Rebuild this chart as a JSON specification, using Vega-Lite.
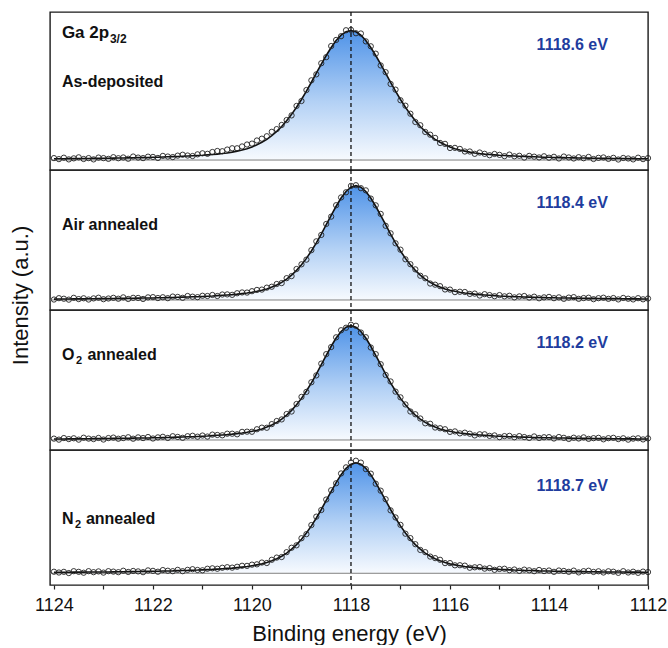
{
"$schema": "https://vega.github.io/schema/vega-lite/v6.json",
"padding": {"left": 8, "top": 10, "right": 0, "bottom": 0},
"background": "white",
"spacing": 0,
"bounds": "flush",
"config": {"view": {"stroke": "#1a1a1a", "strokeWidth": 1.4}, "font": "Liberation Sans"},
"datasets": {
"spec": [
{"s":"a","e":1124,"f":1,"o":1.5},{"s":"a","e":1123.9,"f":1,"o":0.7},{"s":"a","e":1123.8,"f":1,"o":1.8},{"s":"a","e":1123.7,"f":1.1,"o":0.5},{"s":"a","e":1123.6,"f":1.1,"o":1.3},{"s":"a","e":1123.5,"f":1.2,"o":2.1},{"s":"a","e":1123.4,"f":1.2,"o":0.8},{"s":"a","e":1123.3,"f":1.2,"o":1.5},{"s":"a","e":1123.2,"f":1.3,"o":0.5},{"s":"a","e":1123.1,"f":1.3,"o":1.9},
{"s":"a","e":1123,"f":1.4,"o":1.5},{"s":"a","e":1122.9,"f":1.4,"o":0.9},{"s":"a","e":1122.8,"f":1.5,"o":2.2},{"s":"a","e":1122.7,"f":1.6,"o":1.4},{"s":"a","e":1122.6,"f":1.6,"o":2},{"s":"a","e":1122.5,"f":1.7,"o":1},{"s":"a","e":1122.4,"f":1.8,"o":2.7},{"s":"a","e":1122.3,"f":1.9,"o":1.9},{"s":"a","e":1122.2,"f":1.9,"o":1.5},{"s":"a","e":1122.1,"f":2,"o":2.6},
{"s":"a","e":1122,"f":2.1,"o":2.4},{"s":"a","e":1121.9,"f":2.2,"o":1.6},{"s":"a","e":1121.8,"f":2.4,"o":3.2},{"s":"a","e":1121.7,"f":2.5,"o":2.7},{"s":"a","e":1121.6,"f":2.6,"o":2.3},{"s":"a","e":1121.5,"f":2.7,"o":3.4},{"s":"a","e":1121.4,"f":2.9,"o":4.1},{"s":"a","e":1121.3,"f":3.1,"o":3.5},{"s":"a","e":1121.2,"f":3.3,"o":3.1},{"s":"a","e":1121.1,"f":3.5,"o":4.4},
{"s":"a","e":1121,"f":3.7,"o":5.2},{"s":"a","e":1120.9,"f":4,"o":4.8},{"s":"a","e":1120.8,"f":4.3,"o":6.2},{"s":"a","e":1120.7,"f":4.6,"o":7},{"s":"a","e":1120.6,"f":5,"o":6.8},{"s":"a","e":1120.5,"f":5.5,"o":8.1},{"s":"a","e":1120.4,"f":6.1,"o":9.1},{"s":"a","e":1120.3,"f":6.9,"o":9.1},{"s":"a","e":1120.2,"f":7.7,"o":10.5},{"s":"a","e":1120.1,"f":8.8,"o":12},
{"s":"a","e":1120,"f":10.1,"o":12.7},{"s":"a","e":1119.9,"f":11.8,"o":15.1},{"s":"a","e":1119.8,"f":13.7,"o":16.5},{"s":"a","e":1119.7,"f":16,"o":18.4},{"s":"a","e":1119.6,"f":18.8,"o":21.8},{"s":"a","e":1119.5,"f":22.1,"o":23.9},{"s":"a","e":1119.4,"f":25.9,"o":27.1},{"s":"a","e":1119.3,"f":30.3,"o":30.9},{"s":"a","e":1119.2,"f":35.3,"o":34.5},{"s":"a","e":1119.1,"f":40.8,"o":41.8},
{"s":"a","e":1119,"f":46.8,"o":45.6},{"s":"a","e":1118.9,"f":53.3,"o":54.1},{"s":"a","e":1118.8,"f":60.1,"o":61.6},{"s":"a","e":1118.7,"f":67.1,"o":66.2},{"s":"a","e":1118.6,"f":74.1,"o":74.8},{"s":"a","e":1118.5,"f":80.8,"o":79.5},{"s":"a","e":1118.4,"f":87,"o":88.1},{"s":"a","e":1118.3,"f":92.4,"o":92.8},{"s":"a","e":1118.2,"f":96.5,"o":95.7},{"s":"a","e":1118.1,"f":99.1,"o":100.3},
{"s":"a","e":1118,"f":100,"o":100.6},{"s":"a","e":1117.9,"f":99.1,"o":98},{"s":"a","e":1117.8,"f":96.5,"o":97.8},{"s":"a","e":1117.7,"f":92.4,"o":91.7},{"s":"a","e":1117.6,"f":87,"o":87.9},{"s":"a","e":1117.5,"f":80.8,"o":82.2},{"s":"a","e":1117.4,"f":74.1,"o":73.1},{"s":"a","e":1117.3,"f":67.1,"o":67.9},{"s":"a","e":1117.2,"f":60.1,"o":58.8},{"s":"a","e":1117.1,"f":53.3,"o":54.4},
{"s":"a","e":1117,"f":46.8,"o":46.2},{"s":"a","e":1116.9,"f":40.8,"o":42},{"s":"a","e":1116.8,"f":35.3,"o":35.8},{"s":"a","e":1116.7,"f":30.3,"o":29.4},{"s":"a","e":1116.6,"f":25.9,"o":26.9},{"s":"a","e":1116.5,"f":22.1,"o":21.7},{"s":"a","e":1116.4,"f":18.8,"o":19.6},{"s":"a","e":1116.3,"f":16,"o":17.1},{"s":"a","e":1116.2,"f":13.7,"o":13.2},{"s":"a","e":1116.1,"f":11.8,"o":12.5},
{"s":"a","e":1116,"f":10.1,"o":9.3},{"s":"a","e":1115.9,"f":8.8,"o":9.4},{"s":"a","e":1115.8,"f":7.7,"o":8.6},{"s":"a","e":1115.7,"f":6.9,"o":6.6},{"s":"a","e":1115.6,"f":6.1,"o":6.6},{"s":"a","e":1115.5,"f":5.5,"o":4.8},{"s":"a","e":1115.4,"f":5,"o":5.8},{"s":"a","e":1115.3,"f":4.6,"o":4.8},{"s":"a","e":1115.2,"f":4.3,"o":3.7},{"s":"a","e":1115.1,"f":4,"o":4.7},
{"s":"a","e":1115,"f":3.7,"o":4},{"s":"a","e":1114.9,"f":3.5,"o":3},{"s":"a","e":1114.8,"f":3.3,"o":4.2},{"s":"a","e":1114.7,"f":3.1,"o":2.9},{"s":"a","e":1114.6,"f":2.9,"o":3.3},{"s":"a","e":1114.5,"f":2.7,"o":1.9},{"s":"a","e":1114.4,"f":2.6,"o":3.2},{"s":"a","e":1114.3,"f":2.5,"o":2.6},{"s":"a","e":1114.2,"f":2.4,"o":2},{"s":"a","e":1114.1,"f":2.2,"o":2.9},
{"s":"a","e":1114,"f":2.1,"o":1.8},{"s":"a","e":1113.9,"f":2,"o":2.5},{"s":"a","e":1113.8,"f":1.9,"o":1.2},{"s":"a","e":1113.7,"f":1.9,"o":2.7},{"s":"a","e":1113.6,"f":1.8,"o":2},{"s":"a","e":1113.5,"f":1.7,"o":1.2},{"s":"a","e":1113.4,"f":1.6,"o":2.2},{"s":"a","e":1113.3,"f":1.6,"o":1.4},{"s":"a","e":1113.2,"f":1.5,"o":2.4},{"s":"a","e":1113.1,"f":1.4,"o":0.8},
{"s":"a","e":1113,"f":1.4,"o":1.7},{"s":"a","e":1112.9,"f":1.3,"o":2},{"s":"a","e":1112.8,"f":1.3,"o":0.9},{"s":"a","e":1112.7,"f":1.2,"o":1.7},{"s":"a","e":1112.6,"f":1.2,"o":0.4},{"s":"a","e":1112.5,"f":1.2,"o":1.6},{"s":"a","e":1112.4,"f":1.1,"o":1.2},{"s":"a","e":1112.3,"f":1.1,"o":0.5},{"s":"a","e":1112.2,"f":1,"o":1.8},{"s":"a","e":1112.1,"f":1,"o":0.7},{"s":"a","e":1112,"f":1,"o":1.5},

{"s":"b","e":1124,"f":0.8,"o":0.4},{"s":"b","e":1123.9,"f":0.9,"o":1.6},{"s":"b","e":1123.8,"f":0.9,"o":1.1},{"s":"b","e":1123.7,"f":0.9,"o":0.3},{"s":"b","e":1123.6,"f":1,"o":1.9},{"s":"b","e":1123.5,"f":1,"o":0.8},{"s":"b","e":1123.4,"f":1,"o":1.5},{"s":"b","e":1123.3,"f":1.1,"o":0.4},{"s":"b","e":1123.2,"f":1.1,"o":1.4},{"s":"b","e":1123.1,"f":1.2,"o":2},
{"s":"b","e":1123,"f":1.2,"o":0.7},{"s":"b","e":1122.9,"f":1.2,"o":1.3},{"s":"b","e":1122.8,"f":1.3,"o":1.9},{"s":"b","e":1122.7,"f":1.4,"o":1.1},{"s":"b","e":1122.6,"f":1.4,"o":2.3},{"s":"b","e":1122.5,"f":1.5,"o":0.9},{"s":"b","e":1122.4,"f":1.5,"o":1.9},{"s":"b","e":1122.3,"f":1.6,"o":1.8},{"s":"b","e":1122.2,"f":1.7,"o":0.9},{"s":"b","e":1122.1,"f":1.8,"o":2.3},
{"s":"b","e":1122,"f":1.8,"o":2.5},{"s":"b","e":1121.9,"f":1.9,"o":1.7},{"s":"b","e":1121.8,"f":2,"o":2.4},{"s":"b","e":1121.7,"f":2.1,"o":1.6},{"s":"b","e":1121.6,"f":2.2,"o":3},{"s":"b","e":1121.5,"f":2.4,"o":2.7},{"s":"b","e":1121.4,"f":2.5,"o":1.9},{"s":"b","e":1121.3,"f":2.6,"o":3.5},{"s":"b","e":1121.2,"f":2.8,"o":2.9},{"s":"b","e":1121.1,"f":2.9,"o":2.5},
{"s":"b","e":1121,"f":3.1,"o":3.7},{"s":"b","e":1120.9,"f":3.3,"o":3.5},{"s":"b","e":1120.8,"f":3.5,"o":4.4},{"s":"b","e":1120.7,"f":3.8,"o":3.5},{"s":"b","e":1120.6,"f":4.1,"o":4.8},{"s":"b","e":1120.5,"f":4.4,"o":4.9},{"s":"b","e":1120.4,"f":4.7,"o":4.5},{"s":"b","e":1120.3,"f":5.1,"o":5.9},{"s":"b","e":1120.2,"f":5.6,"o":6.6},{"s":"b","e":1120.1,"f":6.1,"o":6.5},
{"s":"b","e":1120,"f":6.8,"o":7.7},{"s":"b","e":1119.9,"f":7.6,"o":8.8},{"s":"b","e":1119.8,"f":8.5,"o":9.1},{"s":"b","e":1119.7,"f":9.7,"o":10.8},{"s":"b","e":1119.6,"f":11.3,"o":11.6},{"s":"b","e":1119.5,"f":13.1,"o":14},{"s":"b","e":1119.4,"f":15.4,"o":14.8},{"s":"b","e":1119.3,"f":18.3,"o":19.1},{"s":"b","e":1119.2,"f":21.8,"o":20.9},{"s":"b","e":1119.1,"f":25.9,"o":27.1},
{"s":"b","e":1119,"f":30.8,"o":31.2},{"s":"b","e":1118.9,"f":36.4,"o":35.3},{"s":"b","e":1118.8,"f":42.9,"o":43.6},{"s":"b","e":1118.7,"f":50,"o":51.3},{"s":"b","e":1118.6,"f":57.7,"o":56.9},{"s":"b","e":1118.5,"f":65.9,"o":66.5},{"s":"b","e":1118.4,"f":74.1,"o":72.9},{"s":"b","e":1118.3,"f":82,"o":82.9},{"s":"b","e":1118.2,"f":89.2,"o":89.7},{"s":"b","e":1118.1,"f":94.9,"o":94.2},
{"s":"b","e":1118,"f":98.7,"o":99.8},{"s":"b","e":1117.9,"f":100,"o":100.4},{"s":"b","e":1117.8,"f":98.7,"o":97.8},{"s":"b","e":1117.7,"f":94.9,"o":95.9},{"s":"b","e":1117.6,"f":89.2,"o":88.7},{"s":"b","e":1117.5,"f":82,"o":82.8},{"s":"b","e":1117.4,"f":74.1,"o":75.3},{"s":"b","e":1117.3,"f":65.9,"o":64.9},{"s":"b","e":1117.2,"f":57.7,"o":58.3},{"s":"b","e":1117.1,"f":50,"o":49.6},
{"s":"b","e":1117,"f":42.9,"o":44},{"s":"b","e":1116.9,"f":36.4,"o":35.6},{"s":"b","e":1116.8,"f":30.8,"o":31.3},{"s":"b","e":1116.7,"f":25.9,"o":26.8},{"s":"b","e":1116.6,"f":21.8,"o":21.2},{"s":"b","e":1116.5,"f":18.3,"o":19},{"s":"b","e":1116.4,"f":15.4,"o":14.4},{"s":"b","e":1116.3,"f":13.1,"o":13.4},{"s":"b","e":1116.2,"f":11.3,"o":12.1},{"s":"b","e":1116.1,"f":9.7,"o":9.2},
{"s":"b","e":1116,"f":8.5,"o":9.1},{"s":"b","e":1115.9,"f":7.6,"o":6.9},{"s":"b","e":1115.8,"f":6.8,"o":7.2},{"s":"b","e":1115.7,"f":6.1,"o":7},{"s":"b","e":1115.6,"f":5.6,"o":5.3},{"s":"b","e":1115.5,"f":5.1,"o":5.6},{"s":"b","e":1115.4,"f":4.7,"o":3.9},{"s":"b","e":1115.3,"f":4.4,"o":5.1},{"s":"b","e":1115.2,"f":4.1,"o":4.3},{"s":"b","e":1115.1,"f":3.8,"o":3.3},
{"s":"b","e":1115,"f":3.5,"o":4.3},{"s":"b","e":1114.9,"f":3.3,"o":3.2},{"s":"b","e":1114.8,"f":3.1,"o":3.7},{"s":"b","e":1114.7,"f":2.9,"o":2.3},{"s":"b","e":1114.6,"f":2.8,"o":3.1},{"s":"b","e":1114.5,"f":2.6,"o":3.5},{"s":"b","e":1114.4,"f":2.5,"o":2.1},{"s":"b","e":1114.3,"f":2.4,"o":2.9},{"s":"b","e":1114.2,"f":2.2,"o":1.5},{"s":"b","e":1114.1,"f":2.1,"o":2.3},
{"s":"b","e":1114,"f":2,"o":2.7},{"s":"b","e":1113.9,"f":1.9,"o":1.6},{"s":"b","e":1113.8,"f":1.8,"o":2.3},{"s":"b","e":1113.7,"f":1.8,"o":1},{"s":"b","e":1113.6,"f":1.7,"o":2.1},{"s":"b","e":1113.5,"f":1.6,"o":2.5},{"s":"b","e":1113.4,"f":1.5,"o":1},{"s":"b","e":1113.3,"f":1.5,"o":1.7},{"s":"b","e":1113.2,"f":1.4,"o":2},{"s":"b","e":1113.1,"f":1.4,"o":0.7},
{"s":"b","e":1113,"f":1.3,"o":1.6},{"s":"b","e":1112.9,"f":1.2,"o":2},{"s":"b","e":1112.8,"f":1.2,"o":1},{"s":"b","e":1112.7,"f":1.2,"o":1.7},{"s":"b","e":1112.6,"f":1.1,"o":0.5},{"s":"b","e":1112.5,"f":1.1,"o":1.8},{"s":"b","e":1112.4,"f":1,"o":1.1},{"s":"b","e":1112.3,"f":1,"o":0.5},{"s":"b","e":1112.2,"f":1,"o":1.6},{"s":"b","e":1112.1,"f":0.9,"o":0.6},{"s":"b","e":1112,"f":0.9,"o":1.3},

{"s":"c","e":1124,"f":0.9,"o":1.2},{"s":"c","e":1123.9,"f":0.9,"o":0.3},{"s":"c","e":1123.8,"f":0.9,"o":1.7},{"s":"c","e":1123.7,"f":1,"o":0.8},{"s":"c","e":1123.6,"f":1,"o":1.5},{"s":"c","e":1123.5,"f":1,"o":0.3},{"s":"c","e":1123.4,"f":1.1,"o":2},{"s":"c","e":1123.3,"f":1.1,"o":1.2},{"s":"c","e":1123.2,"f":1.2,"o":0.8},{"s":"c","e":1123.1,"f":1.2,"o":1.8},
{"s":"c","e":1123,"f":1.2,"o":0.4},{"s":"c","e":1122.9,"f":1.3,"o":1.7},{"s":"c","e":1122.8,"f":1.4,"o":2.1},{"s":"c","e":1122.7,"f":1.4,"o":1.1},{"s":"c","e":1122.6,"f":1.5,"o":1.7},{"s":"c","e":1122.5,"f":1.5,"o":2.4},{"s":"c","e":1122.4,"f":1.6,"o":1.1},{"s":"c","e":1122.3,"f":1.7,"o":2.3},{"s":"c","e":1122.2,"f":1.8,"o":1.7},{"s":"c","e":1122.1,"f":1.8,"o":2.6},
{"s":"c","e":1122,"f":1.9,"o":1.3},{"s":"c","e":1121.9,"f":2,"o":2.3},{"s":"c","e":1121.8,"f":2.1,"o":2.8},{"s":"c","e":1121.7,"f":2.2,"o":1.8},{"s":"c","e":1121.6,"f":2.4,"o":3.3},{"s":"c","e":1121.5,"f":2.5,"o":2.7},{"s":"c","e":1121.4,"f":2.6,"o":1.9},{"s":"c","e":1121.3,"f":2.8,"o":3.3},{"s":"c","e":1121.2,"f":2.9,"o":3.7},{"s":"c","e":1121.1,"f":3.1,"o":2.9},
{"s":"c","e":1121,"f":3.3,"o":3.9},{"s":"c","e":1120.9,"f":3.5,"o":3},{"s":"c","e":1120.8,"f":3.8,"o":4.7},{"s":"c","e":1120.7,"f":4.1,"o":4.4},{"s":"c","e":1120.6,"f":4.4,"o":4.1},{"s":"c","e":1120.5,"f":4.7,"o":5.5},{"s":"c","e":1120.4,"f":5.1,"o":5.5},{"s":"c","e":1120.3,"f":5.6,"o":5},{"s":"c","e":1120.2,"f":6.1,"o":7.1},{"s":"c","e":1120.1,"f":6.8,"o":7.3},
{"s":"c","e":1120,"f":7.6,"o":7.2},{"s":"c","e":1119.9,"f":8.5,"o":9.4},{"s":"c","e":1119.8,"f":9.7,"o":10.8},{"s":"c","e":1119.7,"f":11.3,"o":10.7},{"s":"c","e":1119.6,"f":13.1,"o":13.9},{"s":"c","e":1119.5,"f":15.4,"o":16.6},{"s":"c","e":1119.4,"f":18.3,"o":18},{"s":"c","e":1119.3,"f":21.8,"o":22.7},{"s":"c","e":1119.2,"f":25.9,"o":24.9},{"s":"c","e":1119.1,"f":30.8,"o":31.5},
{"s":"c","e":1119,"f":36.4,"o":37.7},{"s":"c","e":1118.9,"f":42.9,"o":42.1},{"s":"c","e":1118.8,"f":50,"o":50.5},{"s":"c","e":1118.7,"f":57.7,"o":56.5},{"s":"c","e":1118.6,"f":65.9,"o":66.8},{"s":"c","e":1118.5,"f":74.1,"o":75.1},{"s":"c","e":1118.4,"f":82,"o":81.3},{"s":"c","e":1118.3,"f":89.2,"o":89.8},{"s":"c","e":1118.2,"f":94.9,"o":96},{"s":"c","e":1118.1,"f":98.7,"o":98.2},
{"s":"c","e":1118,"f":100,"o":100.8},{"s":"c","e":1117.9,"f":98.7,"o":99.9},{"s":"c","e":1117.8,"f":94.9,"o":94},{"s":"c","e":1117.7,"f":89.2,"o":89.9},{"s":"c","e":1117.6,"f":82,"o":80.9},{"s":"c","e":1117.5,"f":74.1,"o":75.1},{"s":"c","e":1117.4,"f":65.9,"o":66.3},{"s":"c","e":1117.3,"f":57.7,"o":56.9},{"s":"c","e":1117.2,"f":50,"o":51.2},{"s":"c","e":1117.1,"f":42.9,"o":42.3},
{"s":"c","e":1117,"f":36.4,"o":37.3},{"s":"c","e":1116.9,"f":30.8,"o":31.1},{"s":"c","e":1116.8,"f":25.9,"o":24.9},{"s":"c","e":1116.7,"f":21.8,"o":22.5},{"s":"c","e":1116.6,"f":18.3,"o":18.8},{"s":"c","e":1116.5,"f":15.4,"o":14.6},{"s":"c","e":1116.4,"f":13.1,"o":14.2},{"s":"c","e":1116.3,"f":11.3,"o":10.9},{"s":"c","e":1116.2,"f":9.7,"o":10.3},{"s":"c","e":1116.1,"f":8.5,"o":9.4},
{"s":"c","e":1116,"f":7.6,"o":7.1},{"s":"c","e":1115.9,"f":6.8,"o":7.5},{"s":"c","e":1115.8,"f":6.1,"o":5.8},{"s":"c","e":1115.7,"f":5.6,"o":6.4},{"s":"c","e":1115.6,"f":5.1,"o":5.5},{"s":"c","e":1115.5,"f":4.7,"o":4},{"s":"c","e":1115.4,"f":4.4,"o":5},{"s":"c","e":1115.3,"f":4.1,"o":5},{"s":"c","e":1115.2,"f":3.8,"o":3.6},{"s":"c","e":1115.1,"f":3.5,"o":4},
{"s":"c","e":1115,"f":3.3,"o":2.5},{"s":"c","e":1114.9,"f":3.1,"o":3.4},{"s":"c","e":1114.8,"f":2.9,"o":3.6},{"s":"c","e":1114.7,"f":2.8,"o":2.4},{"s":"c","e":1114.6,"f":2.6,"o":3.4},{"s":"c","e":1114.5,"f":2.5,"o":2.6},{"s":"c","e":1114.4,"f":2.4,"o":1.8},{"s":"c","e":1114.3,"f":2.2,"o":3.1},{"s":"c","e":1114.2,"f":2.1,"o":1.8},{"s":"c","e":1114.1,"f":2,"o":2.4},
{"s":"c","e":1114,"f":1.9,"o":2.5},{"s":"c","e":1113.9,"f":1.8,"o":1.3},{"s":"c","e":1113.8,"f":1.8,"o":2.6},{"s":"c","e":1113.7,"f":1.7,"o":1.9},{"s":"c","e":1113.6,"f":1.6,"o":0.9},{"s":"c","e":1113.5,"f":1.5,"o":2},{"s":"c","e":1113.4,"f":1.5,"o":1.3},{"s":"c","e":1113.3,"f":1.4,"o":2.3},{"s":"c","e":1113.2,"f":1.4,"o":1},{"s":"c","e":1113.1,"f":1.3,"o":1.6},
{"s":"c","e":1113,"f":1.2,"o":1.9},{"s":"c","e":1112.9,"f":1.2,"o":0.6},{"s":"c","e":1112.8,"f":1.2,"o":1.6},{"s":"c","e":1112.7,"f":1.1,"o":1.9},{"s":"c","e":1112.6,"f":1.1,"o":0.8},{"s":"c","e":1112.5,"f":1,"o":1.5},{"s":"c","e":1112.4,"f":1,"o":0.3},{"s":"c","e":1112.3,"f":1,"o":1.2},{"s":"c","e":1112.2,"f":0.9,"o":1.5},{"s":"c","e":1112.1,"f":0.9,"o":0.5},{"s":"c","e":1112,"f":0.9,"o":1.4},

{"s":"d","e":1124,"f":0.8,"o":1.4},{"s":"d","e":1123.9,"f":0.9,"o":0.7},{"s":"d","e":1123.8,"f":0.9,"o":1.3},{"s":"d","e":1123.7,"f":0.9,"o":0.2},{"s":"d","e":1123.6,"f":1,"o":1.9},{"s":"d","e":1123.5,"f":1,"o":1.3},{"s":"d","e":1123.4,"f":1,"o":0.5},{"s":"d","e":1123.3,"f":1.1,"o":1.9},{"s":"d","e":1123.2,"f":1.1,"o":1},{"s":"d","e":1123.1,"f":1.2,"o":1.7},
{"s":"d","e":1123,"f":1.2,"o":0.6},{"s":"d","e":1122.9,"f":1.2,"o":1.9},{"s":"d","e":1122.8,"f":1.3,"o":1.5},{"s":"d","e":1122.7,"f":1.4,"o":1},{"s":"d","e":1122.6,"f":1.4,"o":2.3},{"s":"d","e":1122.5,"f":1.5,"o":1.2},{"s":"d","e":1122.4,"f":1.5,"o":2.1},{"s":"d","e":1122.3,"f":1.6,"o":1.7},{"s":"d","e":1122.2,"f":1.7,"o":1},{"s":"d","e":1122.1,"f":1.8,"o":2.6},
{"s":"d","e":1122,"f":1.8,"o":2.2},{"s":"d","e":1121.9,"f":1.9,"o":1.4},{"s":"d","e":1121.8,"f":2,"o":2.9},{"s":"d","e":1121.7,"f":2.1,"o":2.3},{"s":"d","e":1121.6,"f":2.2,"o":1.9},{"s":"d","e":1121.5,"f":2.4,"o":3.1},{"s":"d","e":1121.4,"f":2.5,"o":1.9},{"s":"d","e":1121.3,"f":2.6,"o":3.1},{"s":"d","e":1121.2,"f":2.8,"o":3.7},{"s":"d","e":1121.1,"f":2.9,"o":3},
{"s":"d","e":1121,"f":3.1,"o":2.7},{"s":"d","e":1120.9,"f":3.3,"o":4.1},{"s":"d","e":1120.8,"f":3.5,"o":4.5},{"s":"d","e":1120.7,"f":3.8,"o":4.1},{"s":"d","e":1120.6,"f":4.1,"o":5},{"s":"d","e":1120.5,"f":4.4,"o":5.5},{"s":"d","e":1120.4,"f":4.7,"o":5.1},{"s":"d","e":1120.3,"f":5.1,"o":5.9},{"s":"d","e":1120.2,"f":5.6,"o":6.8},{"s":"d","e":1120.1,"f":6.1,"o":6.7},
{"s":"d","e":1120,"f":6.8,"o":7.8},{"s":"d","e":1119.9,"f":7.6,"o":8.1},{"s":"d","e":1119.8,"f":8.5,"o":9.7},{"s":"d","e":1119.7,"f":9.7,"o":9.3},{"s":"d","e":1119.6,"f":11.3,"o":12.2},{"s":"d","e":1119.5,"f":13.1,"o":14.2},{"s":"d","e":1119.4,"f":15.4,"o":14.7},{"s":"d","e":1119.3,"f":18.3,"o":19.1},{"s":"d","e":1119.2,"f":21.8,"o":23.1},{"s":"d","e":1119.1,"f":25.9,"o":25.3},
{"s":"d","e":1119,"f":30.8,"o":31.7},{"s":"d","e":1118.9,"f":36.4,"o":35.4},{"s":"d","e":1118.8,"f":42.9,"o":43.6},{"s":"d","e":1118.7,"f":50,"o":51.2},{"s":"d","e":1118.6,"f":57.7,"o":57.2},{"s":"d","e":1118.5,"f":65.9,"o":66.7},{"s":"d","e":1118.4,"f":74.1,"o":75.1},{"s":"d","e":1118.3,"f":82,"o":81.4},{"s":"d","e":1118.2,"f":89.2,"o":90.3},{"s":"d","e":1118.1,"f":94.9,"o":95.8},
{"s":"d","e":1118,"f":98.7,"o":100.2},{"s":"d","e":1117.9,"f":100,"o":101.8},{"s":"d","e":1117.8,"f":98.7,"o":100.1},{"s":"d","e":1117.7,"f":94.9,"o":94.2},{"s":"d","e":1117.6,"f":89.2,"o":90.1},{"s":"d","e":1117.5,"f":82,"o":81},{"s":"d","e":1117.4,"f":74.1,"o":74.7},{"s":"d","e":1117.3,"f":65.9,"o":67},{"s":"d","e":1117.2,"f":57.7,"o":56.9},{"s":"d","e":1117.1,"f":50,"o":50.5},
{"s":"d","e":1117,"f":42.9,"o":43.8},{"s":"d","e":1116.9,"f":36.4,"o":35.8},{"s":"d","e":1116.8,"f":30.8,"o":31.8},{"s":"d","e":1116.7,"f":25.9,"o":26.3},{"s":"d","e":1116.6,"f":21.8,"o":21.1},{"s":"d","e":1116.5,"f":18.3,"o":19.1},{"s":"d","e":1116.4,"f":15.4,"o":15.1},{"s":"d","e":1116.3,"f":13.1,"o":13.7},{"s":"d","e":1116.2,"f":11.3,"o":12.2},{"s":"d","e":1116.1,"f":9.7,"o":9.2},
{"s":"d","e":1116,"f":8.5,"o":9.2},{"s":"d","e":1115.9,"f":7.6,"o":7.2},{"s":"d","e":1115.8,"f":6.8,"o":7.3},{"s":"d","e":1115.7,"f":6.1,"o":6.9},{"s":"d","e":1115.6,"f":5.6,"o":5},{"s":"d","e":1115.5,"f":5.1,"o":5.4},{"s":"d","e":1115.4,"f":4.7,"o":5.6},{"s":"d","e":1115.3,"f":4.4,"o":4.2},{"s":"d","e":1115.2,"f":4.1,"o":4.7},{"s":"d","e":1115.1,"f":3.8,"o":3.1},
{"s":"d","e":1115,"f":3.5,"o":3.9},{"s":"d","e":1114.9,"f":3.3,"o":4.1},{"s":"d","e":1114.8,"f":3.1,"o":2.8},{"s":"d","e":1114.7,"f":2.9,"o":3.4},{"s":"d","e":1114.6,"f":2.8,"o":2.2},{"s":"d","e":1114.5,"f":2.6,"o":3.3},{"s":"d","e":1114.4,"f":2.5,"o":2.7},{"s":"d","e":1114.3,"f":2.4,"o":1.9},{"s":"d","e":1114.2,"f":2.2,"o":3},{"s":"d","e":1114.1,"f":2.1,"o":2},
{"s":"d","e":1114,"f":2,"o":2.5},{"s":"d","e":1113.9,"f":1.9,"o":1.3},{"s":"d","e":1113.8,"f":1.8,"o":2.5},{"s":"d","e":1113.7,"f":1.8,"o":2.1},{"s":"d","e":1113.6,"f":1.7,"o":1.3},{"s":"d","e":1113.5,"f":1.6,"o":2.4},{"s":"d","e":1113.4,"f":1.5,"o":0.8},{"s":"d","e":1113.3,"f":1.5,"o":1.9},{"s":"d","e":1113.2,"f":1.4,"o":2.3},{"s":"d","e":1113.1,"f":1.4,"o":1.2},
{"s":"d","e":1113,"f":1.3,"o":1.8},{"s":"d","e":1112.9,"f":1.2,"o":0.7},{"s":"d","e":1112.8,"f":1.2,"o":1.8},{"s":"d","e":1112.7,"f":1.2,"o":1.4},{"s":"d","e":1112.6,"f":1.1,"o":0.4},{"s":"d","e":1112.5,"f":1.1,"o":1.9},{"s":"d","e":1112.4,"f":1,"o":0.7},{"s":"d","e":1112.3,"f":1,"o":1.4},{"s":"d","e":1112.2,"f":1,"o":0.4},{"s":"d","e":1112.1,"f":0.9,"o":1.5},{"s":"d","e":1112,"f":0.9,"o":1.1}
]
},
"vconcat": [
{
"width": 598, "height": 158,
"layer": [
{"data": {"name": "spec"}, "transform": [{"filter": "datum.s==='a'"}],
 "mark": {"type": "area", "color": {"gradient": "linear", "x1": 0, "y1": 0, "x2": 0, "y2": 1, "stops": [{"offset": 0, "color": "#4f93e8"}, {"offset": 0.55, "color": "#b3d1f5"}, {"offset": 1, "color": "#f7fafe"}]}},
 "encoding": {"x": {"field": "e", "type": "quantitative", "scale": {"domain": [1112, 1124.08], "reverse": true, "nice": false, "zero": false}, "axis": null},
  "y": {"field": "f", "type": "quantitative", "scale": {"domain": [-7.7, 114.4], "nice": false, "zero": false}, "axis": null}, "y2": {"datum": 0}}},
{"data": {"values": [{"b": 0}]}, "mark": {"type": "rule", "stroke": "#808080", "strokeWidth": 1}, "encoding": {"y": {"field": "b", "type": "quantitative", "axis": null}}},
{"data": {"values": [{"c": 1118}]}, "mark": {"type": "rule", "stroke": "#111111", "strokeDash": [4, 3], "strokeWidth": 1.3}, "encoding": {"x": {"field": "c", "type": "quantitative", "axis": null}}},
{"data": {"name": "spec"}, "transform": [{"filter": "datum.s==='a'"}], "mark": {"type": "line", "stroke": "#111111", "strokeWidth": 1.6}, "encoding": {"x": {"field": "e", "type": "quantitative", "axis": null}, "y": {"field": "f", "type": "quantitative", "axis": null}}},
{"data": {"name": "spec"}, "transform": [{"filter": "datum.s==='a'"}], "mark": {"type": "point", "shape": "circle", "filled": false, "size": 28, "stroke": "#222222", "strokeWidth": 0.9, "opacity": 1}, "encoding": {"x": {"field": "e", "type": "quantitative", "axis": null}, "y": {"field": "o", "type": "quantitative", "axis": null}}},
{"data": {"values": [{"t": "Ga 2p"}]}, "mark": {"type": "text", "font": "Liberation Sans", "fontWeight": "bold", "fontSize": 17, "align": "left", "baseline": "alphabetic", "color": "#111111"}, "encoding": {"x": {"datum": 1123.84, "type": "quantitative", "axis": null}, "y": {"datum": 94.6, "type": "quantitative", "axis": null}, "text": {"field": "t"}}},
{"data": {"values": [{"t": "3/2"}]}, "mark": {"type": "text", "font": "Liberation Sans", "fontWeight": "bold", "fontSize": 12, "align": "left", "baseline": "alphabetic", "dx": 48, "color": "#111111"}, "encoding": {"x": {"datum": 1123.84, "type": "quantitative", "axis": null}, "y": {"datum": 90.8, "type": "quantitative", "axis": null}, "text": {"field": "t"}}},
{"data": {"values": [{"t": "As-deposited"}]}, "mark": {"type": "text", "font": "Liberation Sans", "fontWeight": "bold", "fontSize": 16, "align": "left", "baseline": "alphabetic", "color": "#111111"}, "encoding": {"x": {"datum": 1123.84, "type": "quantitative", "axis": null}, "y": {"datum": 56.2, "type": "quantitative", "axis": null}, "text": {"field": "t"}}},
{"data": {"values": [{"t": "1118.6 eV"}]}, "mark": {"type": "text", "font": "Liberation Sans", "fontWeight": "bold", "fontSize": 16, "align": "left", "baseline": "alphabetic", "color": "#213c9e"}, "encoding": {"x": {"datum": 1114.25, "type": "quantitative", "axis": null}, "y": {"datum": 85.4, "type": "quantitative", "axis": null}, "text": {"field": "t"}}}
]
},
{
"width": 598, "height": 140,
"layer": [
{"data": {"name": "spec"}, "transform": [{"filter": "datum.s==='b'"}],
 "mark": {"type": "area", "color": {"gradient": "linear", "x1": 0, "y1": 0, "x2": 0, "y2": 1, "stops": [{"offset": 0, "color": "#4f93e8"}, {"offset": 0.55, "color": "#b3d1f5"}, {"offset": 1, "color": "#f7fafe"}]}},
 "encoding": {"x": {"field": "e", "type": "quantitative", "scale": {"domain": [1112, 1124.08], "reverse": true, "nice": false, "zero": false}, "axis": null},
  "y": {"field": "f", "type": "quantitative", "scale": {"domain": [-8.75, 113.7], "nice": false, "zero": false}, "axis": {"title": "Intensity (a.u.)", "labels": false, "ticks": false, "domain": false, "grid": false, "titleY": 125, "titlePadding": 18, "titleFont": "Liberation Sans", "titleFontSize": 22, "titleFontWeight": "normal", "titleColor": "#111111"}}, "y2": {"datum": 0}}},
{"data": {"values": [{"b": 0}]}, "mark": {"type": "rule", "stroke": "#808080", "strokeWidth": 1}, "encoding": {"y": {"field": "b", "type": "quantitative"}}},
{"data": {"values": [{"c": 1118}]}, "mark": {"type": "rule", "stroke": "#111111", "strokeDash": [4, 3], "strokeWidth": 1.3}, "encoding": {"x": {"field": "c", "type": "quantitative", "axis": null}}},
{"data": {"name": "spec"}, "transform": [{"filter": "datum.s==='b'"}], "mark": {"type": "line", "stroke": "#111111", "strokeWidth": 1.6}, "encoding": {"x": {"field": "e", "type": "quantitative", "axis": null}, "y": {"field": "f", "type": "quantitative"}}},
{"data": {"name": "spec"}, "transform": [{"filter": "datum.s==='b'"}], "mark": {"type": "point", "shape": "circle", "filled": false, "size": 28, "stroke": "#222222", "strokeWidth": 0.9, "opacity": 1}, "encoding": {"x": {"field": "e", "type": "quantitative", "axis": null}, "y": {"field": "o", "type": "quantitative"}}},
{"data": {"values": [{"t": "Air annealed"}]}, "mark": {"type": "text", "font": "Liberation Sans", "fontWeight": "bold", "fontSize": 16, "align": "left", "baseline": "alphabetic", "color": "#111111"}, "encoding": {"x": {"datum": 1123.84, "type": "quantitative", "axis": null}, "y": {"datum": 61.2, "type": "quantitative"}, "text": {"field": "t"}}},
{"data": {"values": [{"t": "1118.4 eV"}]}, "mark": {"type": "text", "font": "Liberation Sans", "fontWeight": "bold", "fontSize": 16, "align": "left", "baseline": "alphabetic", "color": "#213c9e"}, "encoding": {"x": {"datum": 1114.25, "type": "quantitative", "axis": null}, "y": {"datum": 80.5, "type": "quantitative"}, "text": {"field": "t"}}}
]
},
{
"width": 598, "height": 140,
"layer": [
{"data": {"name": "spec"}, "transform": [{"filter": "datum.s==='c'"}],
 "mark": {"type": "area", "color": {"gradient": "linear", "x1": 0, "y1": 0, "x2": 0, "y2": 1, "stops": [{"offset": 0, "color": "#4f93e8"}, {"offset": 0.55, "color": "#b3d1f5"}, {"offset": 1, "color": "#f7fafe"}]}},
 "encoding": {"x": {"field": "e", "type": "quantitative", "scale": {"domain": [1112, 1124.08], "reverse": true, "nice": false, "zero": false}, "axis": null},
  "y": {"field": "f", "type": "quantitative", "scale": {"domain": [-8.75, 113.7], "nice": false, "zero": false}, "axis": null}, "y2": {"datum": 0}}},
{"data": {"values": [{"b": 0}]}, "mark": {"type": "rule", "stroke": "#808080", "strokeWidth": 1}, "encoding": {"y": {"field": "b", "type": "quantitative", "axis": null}}},
{"data": {"values": [{"c": 1118}]}, "mark": {"type": "rule", "stroke": "#111111", "strokeDash": [4, 3], "strokeWidth": 1.3}, "encoding": {"x": {"field": "c", "type": "quantitative", "axis": null}}},
{"data": {"name": "spec"}, "transform": [{"filter": "datum.s==='c'"}], "mark": {"type": "line", "stroke": "#111111", "strokeWidth": 1.6}, "encoding": {"x": {"field": "e", "type": "quantitative", "axis": null}, "y": {"field": "f", "type": "quantitative", "axis": null}}},
{"data": {"name": "spec"}, "transform": [{"filter": "datum.s==='c'"}], "mark": {"type": "point", "shape": "circle", "filled": false, "size": 28, "stroke": "#222222", "strokeWidth": 0.9, "opacity": 1}, "encoding": {"x": {"field": "e", "type": "quantitative", "axis": null}, "y": {"field": "o", "type": "quantitative", "axis": null}}},
{"data": {"values": [{"t": "O"}]}, "mark": {"type": "text", "font": "Liberation Sans", "fontWeight": "bold", "fontSize": 16, "align": "left", "baseline": "alphabetic", "color": "#111111"}, "encoding": {"x": {"datum": 1123.84, "type": "quantitative", "axis": null}, "y": {"datum": 70, "type": "quantitative", "axis": null}, "text": {"field": "t"}}},
{"data": {"values": [{"t": "2"}]}, "mark": {"type": "text", "font": "Liberation Sans", "fontWeight": "bold", "fontSize": 11, "align": "left", "baseline": "alphabetic", "dx": 14, "color": "#111111"}, "encoding": {"x": {"datum": 1123.84, "type": "quantitative", "axis": null}, "y": {"datum": 66.5, "type": "quantitative", "axis": null}, "text": {"field": "t"}}},
{"data": {"values": [{"t": "annealed"}]}, "mark": {"type": "text", "font": "Liberation Sans", "fontWeight": "bold", "fontSize": 16, "align": "left", "baseline": "alphabetic", "dx": 25.5, "color": "#111111"}, "encoding": {"x": {"datum": 1123.84, "type": "quantitative", "axis": null}, "y": {"datum": 70, "type": "quantitative", "axis": null}, "text": {"field": "t"}}},
{"data": {"values": [{"t": "1118.2 eV"}]}, "mark": {"type": "text", "font": "Liberation Sans", "fontWeight": "bold", "fontSize": 16, "align": "left", "baseline": "alphabetic", "color": "#213c9e"}, "encoding": {"x": {"datum": 1114.25, "type": "quantitative", "axis": null}, "y": {"datum": 80.5, "type": "quantitative", "axis": null}, "text": {"field": "t"}}}
]
},
{
"width": 598, "height": 135,
"layer": [
{"data": {"name": "spec"}, "transform": [{"filter": "datum.s==='d'"}],
 "mark": {"type": "area", "color": {"gradient": "linear", "x1": 0, "y1": 0, "x2": 0, "y2": 1, "stops": [{"offset": 0, "color": "#4f93e8"}, {"offset": 0.55, "color": "#b3d1f5"}, {"offset": 1, "color": "#f7fafe"}]}},
 "encoding": {"x": {"field": "e", "type": "quantitative", "scale": {"domain": [1112, 1124.08], "reverse": true, "nice": false, "zero": false},
   "axis": {"values": [1112, 1113, 1114, 1115, 1116, 1117, 1118, 1119, 1120, 1121, 1122, 1123, 1124], "format": "d", "labelExpr": "datum.value % 2 === 0 ? datum.label : ''", "labelFlush": false, "labelOverlap": false, "labelFont": "Liberation Sans", "labelFontSize": 18, "labelColor": "#111111", "labelPadding": 7, "tickSize": 4, "tickColor": "#222222", "tickWidth": 1.2, "domain": false, "grid": false, "title": "Binding energy (eV)", "titleFont": "Liberation Sans", "titleFontSize": 22, "titleFontWeight": "normal", "titleColor": "#111111", "titlePadding": 9}},
  "y": {"field": "f", "type": "quantitative", "scale": {"domain": [-10.6, 111.5], "nice": false, "zero": false}, "axis": null}, "y2": {"datum": 0}}},
{"data": {"values": [{"b": 0}]}, "mark": {"type": "rule", "stroke": "#808080", "strokeWidth": 1}, "encoding": {"y": {"field": "b", "type": "quantitative", "axis": null}}},
{"data": {"values": [{"c": 1118}]}, "mark": {"type": "rule", "stroke": "#111111", "strokeDash": [4, 3], "strokeWidth": 1.3}, "encoding": {"x": {"field": "c", "type": "quantitative"}}},
{"data": {"name": "spec"}, "transform": [{"filter": "datum.s==='d'"}], "mark": {"type": "line", "stroke": "#111111", "strokeWidth": 1.6}, "encoding": {"x": {"field": "e", "type": "quantitative"}, "y": {"field": "f", "type": "quantitative", "axis": null}}},
{"data": {"name": "spec"}, "transform": [{"filter": "datum.s==='d'"}], "mark": {"type": "point", "shape": "circle", "filled": false, "size": 28, "stroke": "#222222", "strokeWidth": 0.9, "opacity": 1}, "encoding": {"x": {"field": "e", "type": "quantitative"}, "y": {"field": "o", "type": "quantitative", "axis": null}}},
{"data": {"values": [{"t": "N"}]}, "mark": {"type": "text", "font": "Liberation Sans", "fontWeight": "bold", "fontSize": 16, "align": "left", "baseline": "alphabetic", "color": "#111111"}, "encoding": {"x": {"datum": 1123.84, "type": "quantitative"}, "y": {"datum": 44.6, "type": "quantitative", "axis": null}, "text": {"field": "t"}}},
{"data": {"values": [{"t": "2"}]}, "mark": {"type": "text", "font": "Liberation Sans", "fontWeight": "bold", "fontSize": 11, "align": "left", "baseline": "alphabetic", "dx": 13, "color": "#111111"}, "encoding": {"x": {"datum": 1123.84, "type": "quantitative"}, "y": {"datum": 41, "type": "quantitative", "axis": null}, "text": {"field": "t"}}},
{"data": {"values": [{"t": "annealed"}]}, "mark": {"type": "text", "font": "Liberation Sans", "fontWeight": "bold", "fontSize": 16, "align": "left", "baseline": "alphabetic", "dx": 24, "color": "#111111"}, "encoding": {"x": {"datum": 1123.84, "type": "quantitative"}, "y": {"datum": 44.6, "type": "quantitative", "axis": null}, "text": {"field": "t"}}},
{"data": {"values": [{"t": "1118.7 eV"}]}, "mark": {"type": "text", "font": "Liberation Sans", "fontWeight": "bold", "fontSize": 16, "align": "left", "baseline": "alphabetic", "color": "#213c9e"}, "encoding": {"x": {"datum": 1114.25, "type": "quantitative"}, "y": {"datum": 74.4, "type": "quantitative", "axis": null}, "text": {"field": "t"}}}
]
}
]
}
